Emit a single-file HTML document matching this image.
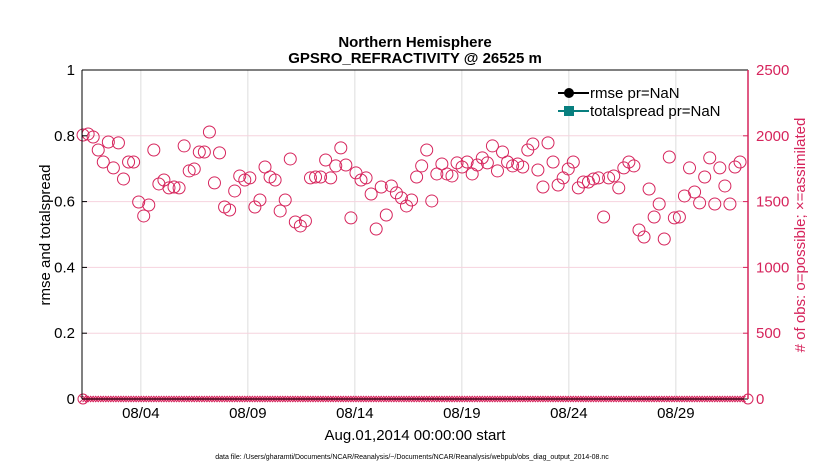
<!DOCTYPE html>
<html><head><meta charset="utf-8"><style>
body{margin:0;background:#fff;}
svg{display:block;font-family:"Liberation Sans",sans-serif;}
</style></head><body>
<svg id="chart" width="830" height="470">
<text x="415" y="47" text-anchor="middle" font-size="15" font-weight="bold">Northern Hemisphere</text>
<text x="415" y="63" text-anchor="middle" font-size="15" font-weight="bold">GPSRO_REFRACTIVITY @ 26525 m</text>
<g id="grid"></g>
<g id="marks"></g>
<g id="axes"></g>
<g>
<line x1="558" y1="93" x2="589" y2="93" stroke="#000" stroke-width="2"/>
<circle cx="569" cy="93" r="5" fill="#000"/>
<text x="590" y="98" font-size="15">rmse pr=NaN</text>
<line x1="558" y1="111" x2="589" y2="111" stroke="#087f7f" stroke-width="2"/>
<rect x="564" y="106" width="10" height="10" fill="#087f7f"/>
<text x="590" y="116" font-size="15">totalspread pr=NaN</text>
</g>
<text transform="translate(50,235) rotate(-90)" text-anchor="middle" font-size="15">rmse and totalspread</text>
<text transform="translate(805,235) rotate(-90)" text-anchor="middle" font-size="15" fill="#d6245c"># of obs: o=possible; ×=assimilated</text>
<text x="415" y="440" text-anchor="middle" font-size="15">Aug.01,2014 00:00:00 start</text>
<text x="412" y="459" text-anchor="middle" font-size="7">data file: /Users/gharamti/Documents/NCAR/Reanalysis/~/Documents/NCAR/Reanalysis/webpub/obs_diag_output_2014-08.nc</text>
</svg>
<script>
const obsPossible=[2006,2014,1991,1892,1801,1953,1756,1946,1672,1801,1801,1497,1391,1474,1892,1634,1664,1604,1611,1604,1923,1733,1748,1877,1877,2029,1642,1870,1459,1436,1581,1695,1664,1680,1459,1512,1763,1687,1664,1429,1512,1824,1345,1315,1353,1680,1687,1687,1816,1680,1771,1908,1778,1376,1718,1664,1680,1558,1292,1611,1398,1619,1566,1528,1467,1512,1687,1771,1892,1505,1710,1786,1710,1695,1794,1763,1801,1710,1778,1832,1794,1923,1733,1877,1801,1771,1786,1763,1892,1938,1740,1611,1946,1801,1626,1680,1748,1801,1604,1649,1649,1672,1680,1383,1680,1695,1604,1756,1801,1771,1284,1231,1596,1383,1482,1216,1839,1376,1383,1543,1756,1573,1490,1687,1832,1482,1756,1619,1482,1763,1801];
const tickDays=[3,8,13,18,23,28];
const tickLabels=["08/04","08/09","08/14","08/19","08/24","08/29"];
const leftTicks=[0,0.2,0.4,0.6,0.8,1];
const rightTicks=[0,500,1000,1500,2000,2500];
const startDay=0.3, endDay=31.0;
const stepDay=(endDay-startDay)/(obsPossible.length-1);
const L=82,R=748,T=70,B=399;
const xS=d=>L+(d-0.25)*21.4;
const yL=v=>B-v*(B-T);
const yR=v=>B-v/2500*(B-T);
const NS="http://www.w3.org/2000/svg";
function mk(tag,attrs,parent,txt){const e=document.createElementNS(NS,tag);for(const k in attrs)e.setAttribute(k,attrs[k]);if(txt!==undefined)e.textContent=txt;document.getElementById(parent).appendChild(e);return e;}
const M="#d6245c";
tickDays.forEach((d,i)=>{
 const g=mk('line',{x1:xS(d),x2:xS(d),y1:T,y2:B,stroke:'#ddd'},'grid');
 
 
 const t=mk('text',{x:xS(d),y:B+19,'text-anchor':'middle','font-size':15},'axes',tickLabels[i]);
 
 
});
rightTicks.forEach(v=>{
 if(v>0&&v<2500){const g=mk('line',{x1:L,x2:R,y1:yR(v),y2:yR(v),stroke:'#f6d3de'},'grid');
 
 }
 const t=mk('text',{x:R+8,y:yR(v)+5,'font-size':15,fill:M},'axes',v);
 
 
 mk('line',{x1:R-5,x2:R,y1:yR(v),y2:yR(v),stroke:M},'axes');
});
leftTicks.forEach(v=>{
 const t=mk('text',{x:L-7,y:yL(v)+5,'font-size':15,'text-anchor':'end'},'axes',v);
 
 
 mk('line',{x1:L,x2:L+5,y1:yL(v),y2:yL(v),stroke:'#000'},'axes');
});
mk('line',{x1:L,x2:L,y1:T,y2:B,stroke:'#000'},'axes');
mk('line',{x1:L,x2:R,y1:T,y2:T,stroke:'#000'},'axes');
mk('line',{x1:L,x2:R,y1:B,y2:B,stroke:'#000'},'axes');
mk('line',{x1:R,x2:R,y1:T,y2:B,stroke:M,'stroke-width':1.5},'axes');
obsPossible.forEach((v,i)=>{
 const d=startDay+i*stepDay;
 const c=mk('circle',{cx:xS(d),cy:yR(v),r:6,fill:'none',stroke:M,'stroke-width':1},'marks');
 
 
 for(const h of [0,0.5]){
  const x=xS(d+h*stepDay),y=yR(0);
  if(x>R-2)continue;
  const p=mk('path',{d:`M${x-3},${y-3}L${x+3},${y+3}M${x-3},${y+3}L${x+3},${y-3}`,stroke:M,'stroke-width':1},'marks');
  
  
 }
});
const c0=mk('circle',{cx:L+1,cy:yR(0),r:5,fill:'none',stroke:M},'marks');


const c1=mk('circle',{cx:R,cy:yR(0),r:5,fill:'none',stroke:M},'marks');


</script>
</body></html>
